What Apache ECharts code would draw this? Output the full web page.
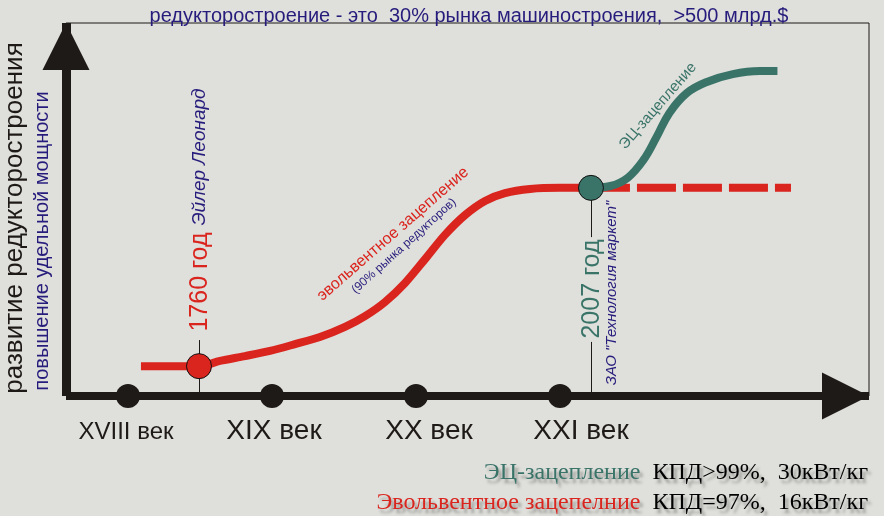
<!DOCTYPE html>
<html>
<head>
<meta charset="utf-8">
<script src="https://cdn.jsdelivr.net/npm/echarts@6/dist/echarts.min.js"></script>
<style>
  html, body { margin: 0; padding: 0; background: #dfdfdb; }
  #chart { width: 884px; height: 516px; }
</style>
</head>
<body>
<div id="chart"></div>
<script>
// века на оси X (позиция в веках) и подписи к ним
const centuries = [18, 19, 20, 21]
const centuryLabels = ['XVIII век', 'XIX век', 'XX век', 'XXI век']

// эвольвентное зацепление (уровень удельной мощности, усл. ед.)
const involuteX = [18.09, 18.493, 18.639, 18.813, 18.986, 19.16, 19.333, 19.507, 19.646, 19.785, 19.924, 20.063, 20.201, 20.34, 20.479, 20.618, 20.792, 21.0, 21.215]
const involuteY = [8.0, 8.0, 9.4, 10.7, 12.1, 13.9, 15.8, 18.5, 21.4, 25.2, 30.3, 36.7, 43.2, 48.5, 52.3, 54.4, 55.5, 55.8, 55.8]

// продолжение эвольвентного (пунктир)
const forecastX = [21.215, 22.604]
const forecastY = [55.8, 55.8]

// ЭЦ-зацепление
const ecX = [21.215, 21.35, 21.47, 21.58, 21.67, 21.76, 21.88, 22.02, 22.20, 22.39, 22.51]
const ecY = [55.8, 56.3, 58.5, 63.3, 69.4, 75.9, 81.2, 84.2, 86.3, 87.1, 87.1]

// события: 1760 год, 2007 год
const eventX = [18.493, 21.215]
const eventY = [8.0, 55.8]

// тонкие выноски от событий
const guideX = [18.493, 21.215, 21.215]
const guideFrom = [0, 55.8, 14.5]
const guideTo = [15.0, 42.6, 0]

const AXIS = '#1e1a17'
const RED = '#da241e'
const GREEN = '#3a7469'
const NAVY = '#261c7c'
const SANS = "'Liberation Sans', Arial, sans-serif"
const SERIF = "'Liberation Serif', 'Times New Roman', serif"

const zip = (xs, ys) => xs.map((x, i) => [x, ys[i]])

const labelShift = [[-2, 36], [2, 35], [13, 35], [21, 35]]
const labelSize = [24, 28, 28, 28]

const chart = echarts.init(document.getElementById('chart'))

const shadow = {
  textShadowColor: 'rgba(60,60,60,0.45)',
  textShadowBlur: 3,
  textShadowOffsetX: 3,
  textShadowOffsetY: 4
}

chart.setOption({
  backgroundColor: '#dfdfdb',
  animation: false,
  title: {
    text: 'редукторостроение - это  30% рынка машиностроения,  >500 млрд.$',
    left: 464,
    textAlign: 'center',
    top: 1,
    textStyle: { color: NAVY, fontSize: 20, fontWeight: 'normal', fontFamily: SANS }
  },
  grid: {
    left: 66,
    top: 23,
    width: 803,
    height: 373,
    show: true,
    borderColor: AXIS,
    borderWidth: 1,
    backgroundColor: 'transparent'
  },
  xAxis: {
    type: 'value',
    min: 17.56944,
    max: 23.14583,
    axisLine: {
      show: true,
      symbol: ['none', 'triangle'],
      symbolSize: [47, 47],
      symbolOffset: [0, -23.5],
      lineStyle: { color: AXIS, width: 8, cap: 'butt' }
    },
    axisTick: { show: false },
    axisLabel: { show: false },
    splitLine: { show: false }
  },
  yAxis: {
    type: 'value',
    min: 0,
    max: 100,
    axisLine: {
      show: true,
      symbol: ['none', 'triangle'],
      symbolSize: [47, 47],
      symbolOffset: [0, -23.5],
      lineStyle: { color: AXIS, width: 9, cap: 'butt' }
    },
    axisTick: { show: false },
    axisLabel: { show: false },
    splitLine: { show: false }
  },
  series: [
    {
      type: 'lines',
      coordinateSystem: 'cartesian2d',
      z: 1,
      lineStyle: { color: AXIS, width: 1, opacity: 1 },
      data: guideX.map((x, i) => ({ coords: [[x, guideFrom[i]], [x, guideTo[i]]] }))
    },
    {
      type: 'line',
      data: zip(involuteX, involuteY),
      smooth: 0.3,
      showSymbol: false,
      z: 3,
      lineStyle: { color: RED, width: 8, cap: 'butt' }
    },
    {
      type: 'line',
      data: zip(forecastX, forecastY),
      showSymbol: false,
      z: 3,
      lineStyle: { color: RED, width: 8, type: [39, 7], cap: 'butt' }
    },
    {
      type: 'line',
      data: zip(ecX, ecY),
      smooth: 0.4,
      showSymbol: false,
      z: 4,
      lineStyle: { color: GREEN, width: 8, cap: 'butt' }
    },
    {
      type: 'scatter',
      z: 5,
      symbolSize: 24,
      itemStyle: { color: AXIS, opacity: 1 },
      data: centuries.map((c, i) => ({
        value: [c, 0],
        label: {
          show: true,
          position: 'inside',
          offset: labelShift[i],
          formatter: centuryLabels[i],
          color: AXIS,
          fontSize: labelSize[i],
          fontFamily: SANS
        }
      }))
    },
    {
      type: 'scatter',
      z: 6,
      symbolSize: 25,
      data: eventX.map((x, i) => ({
        value: [x, eventY[i]],
        itemStyle: { color: i === 0 ? RED : GREEN, borderColor: '#111', borderWidth: 1, opacity: 1 }
      }))
    }
  ],
  graphic: [
    {
      type: 'text', x: 15, y: 218, rotation: Math.PI / 2,
      style: { text: 'развитие редукторостроения', fill: AXIS, font: "26px " + SANS, align: 'center', verticalAlign: 'middle' }
    },
    {
      type: 'text', x: 42, y: 241, rotation: Math.PI / 2,
      style: { text: 'повышение удельной мощности', fill: NAVY, font: "20px " + SANS, align: 'center', verticalAlign: 'middle' }
    },
    {
      type: 'text', x: 200, y: 282, rotation: Math.PI / 2,
      style: { text: '1760 год', fill: RED, font: "25px " + SANS, align: 'center', verticalAlign: 'middle' }
    },
    {
      type: 'text', x: 200, y: 157, rotation: Math.PI / 2,
      style: { text: 'Эйлер Леонард', fill: NAVY, font: "italic 19px " + SANS, align: 'center', verticalAlign: 'middle' }
    },
    {
      type: 'text', x: 592, y: 289, rotation: Math.PI / 2,
      style: { text: '2007 год', fill: GREEN, font: "25px " + SANS, align: 'center', verticalAlign: 'middle' }
    },
    {
      type: 'text', x: 612, y: 293, rotation: Math.PI / 2,
      style: { text: 'ЗАО "Технология маркет"', fill: NAVY, font: "italic 15px " + SANS, align: 'center', verticalAlign: 'middle' }
    },
    {
      type: 'text', x: 393, y: 234, rotation: 41 * Math.PI / 180,
      style: { text: 'эвольвентное зацепление', fill: RED, font: "16px " + SANS, align: 'center', verticalAlign: 'middle' }
    },
    {
      type: 'text', x: 404, y: 246, rotation: 42 * Math.PI / 180,
      style: { text: '(90% рынка редукторов)', fill: NAVY, font: "12px " + SANS, align: 'center', verticalAlign: 'middle' }
    },
    {
      type: 'text', x: 658, y: 106, rotation: 49 * Math.PI / 180,
      style: { text: 'ЭЦ-зацепление', fill: GREEN, font: "15px " + SANS, align: 'center', verticalAlign: 'middle' }
    },
    {
      type: 'text', x: 868, y: 473,
      style: Object.assign({
        text: '{g|ЭЦ-зацепление}  {k|КПД>99%,  30кВт/кг}',
        align: 'right', verticalAlign: 'middle',
        font: "24px " + SERIF,
        rich: {
          g: Object.assign({ fill: GREEN, color: GREEN, fontSize: 24, fontFamily: SERIF }, shadow),
          k: Object.assign({ fill: '#000', color: '#000', fontSize: 24, fontFamily: SERIF }, shadow)
        }
      }, shadow)
    },
    {
      type: 'text', x: 868, y: 503,
      style: Object.assign({
        text: '{r|Эвольвентное зацепелние}  {k|КПД=97%,  16кВт/кг}',
        align: 'right', verticalAlign: 'middle',
        font: "24px " + SERIF,
        rich: {
          r: Object.assign({ fill: RED, color: RED, fontSize: 24, fontFamily: SERIF }, shadow),
          k: Object.assign({ fill: '#000', color: '#000', fontSize: 24, fontFamily: SERIF }, shadow)
        }
      }, shadow)
    }
  ]
})
</script>
</body>
</html>
